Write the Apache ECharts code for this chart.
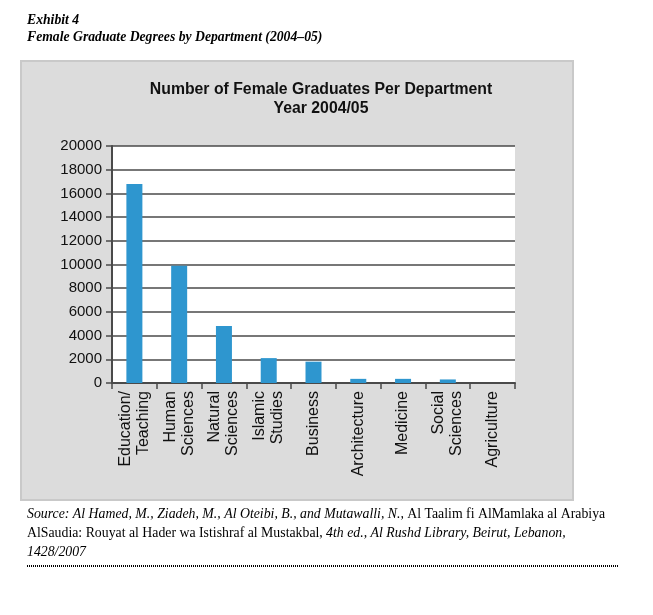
<!DOCTYPE html>
<html><head><meta charset="utf-8">
<script src="https://cdn.jsdelivr.net/npm/echarts@6/dist/echarts.min.js"></script>
<style>html,body{margin:0;padding:0;background:#fff}#c{width:653px;height:615px}</style>
</head><body><div id="c"></div>
<script>
const categories = ["Education/\nTeaching","Human\nSciences","Natural\nSciences","Islamic\nStudies","Business","Architecture","Medicine","Social\nSciences","Agriculture"];
const values = [16800, 9900, 4800, 2100, 1800, 350, 350, 300, 0];
const yTicks = [0, 2000, 4000, 6000, 8000, 10000, 12000, 14000, 16000, 18000, 20000];

const chart = echarts.init(document.getElementById('c'), null, {renderer:'canvas'});
const serif = '"Liberation Serif","DejaVu Serif",serif';
const sans = '"Liberation Sans",Arial,sans-serif';
chart.setOption({
  backgroundColor: '#fff',
  animation: false,
  graphic: [
    {type:'rect', z:-10, shape:{x:21,y:61,width:552,height:439}, style:{fill:'#dcdcdc', stroke:'#c9c9c9', lineWidth:2}},
    {type:'rect', z:-9, shape:{x:112,y:146,width:403,height:237}, style:{fill:'#fff'}},
    {type:'text', left:27, top:13, style:{text:'Exhibit 4', font:'bold italic 13.7px '+serif, fill:'#000'}},
    {type:'text', left:27, top:30, style:{text:'Female Graduate Degrees by Department (2004\u201305)', font:'bold italic 13.7px '+serif, fill:'#000'}},
    {type:'text', left:27, top:507, style:{rich:{i:{font:'italic 13.8px '+serif, fill:'#000'}, n:{font:'13.8px '+serif, fill:'#000'}}, text:'{i|Source: Al Hamed, M., Ziadeh, M., Al Oteibi, B., and Mutawalli, N.,} {n|Al Taalim fi AlMamlaka al Arabiya}'}},
    {type:'text', left:27, top:526, style:{rich:{i:{font:'italic 13.8px '+serif, fill:'#000'}, n:{font:'13.8px '+serif, fill:'#000'}}, text:'{n|AlSaudia: Rouyat al Hader wa Istishraf al Mustakbal,} {i|4th ed., Al Rushd Library, Beirut, Lebanon,}'}},
    {type:'text', left:27, top:545, style:{text:'1428/2007', font:'italic 13.8px '+serif, fill:'#000'}},
    {type:'line', shape:{x1:27,y1:566,x2:618,y2:566}, style:{stroke:'#000', lineWidth:2, lineDash:[1,1]}}
  ],
  title: {
    text: 'Number of Female Graduates Per Department\nYear 2004/05',
    left: 316, top: 75, textAlign: 'center',
    textStyle: {fontFamily: sans, fontWeight: 'bold', fontSize: 15.8, lineHeight: 19, color: '#111'}
  },
  grid: {left:112, right:138, top:146, bottom:232, containLabel:false},
  xAxis: {
    type: 'category', data: categories,
    axisLine: {lineStyle:{color:'#4a4a4a', width:2}},
    axisTick: {show:true, alignWithLabel:false, length:6, lineStyle:{color:'#4a4a4a', width:1.5}},
    axisLabel: {rotate:90, interval:0, margin:8, fontFamily:sans, fontSize:16, lineHeight:18, color:'#111'}
  },
  yAxis: {
    type: 'value', min: 0, max: 20000, interval: 2000,
    axisLine: {show:true, lineStyle:{color:'#4a4a4a', width:2}},
    axisTick: {show:true, length:6, lineStyle:{color:'#4a4a4a', width:1.5}},
    splitLine: {lineStyle:{color:'#4a4a4a', width:1.5}},
    axisLabel: {fontFamily:sans, fontSize:15, color:'#111', margin:10,
      formatter: v => yTicks.includes(v) ? String(v) : ''}
  },
  series: [{
    type: 'bar', data: values, barWidth: 16,
    itemStyle: {color: '#2e96cf'}
  }]
});
</script></body></html>
